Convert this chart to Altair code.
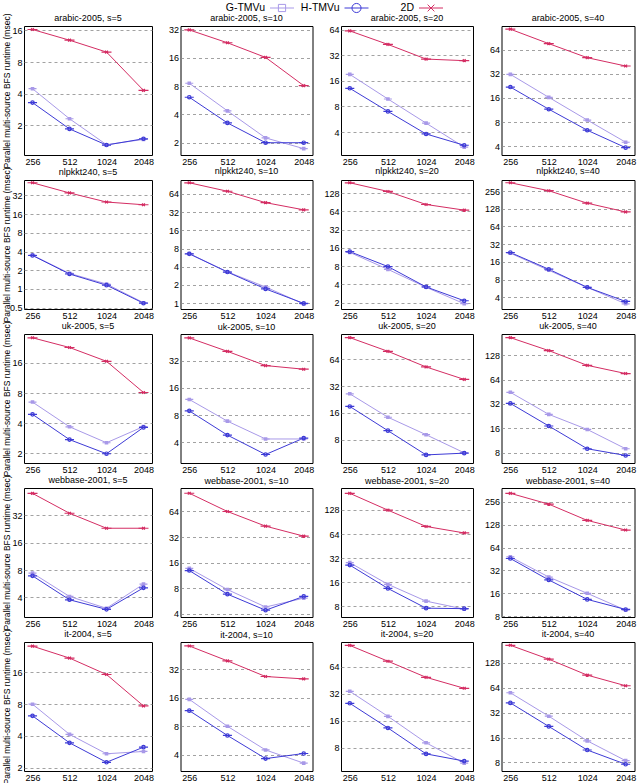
import altair as alt
import pandas as pd

procs = [256, 512, 1024, 2048]
graphs = ["arabic-2005", "nlpkkt240", "uk-2005", "webbase-2001", "it-2004"]
sources = [5, 10, 20, 40]
series = ["G-TMVu", "H-TMVu", "2D"]
colors = ["#a899e8", "#3d3ad6", "#d42d63"]

# runtimes in msec: one list per s (5, 10, 20, 40), values for 256..2048 processes
arabic_g = [[4.46, 2.31, 1.31, 1.47], [8.6, 4.37, 2.25, 1.73], [19.1, 9.8, 5.1, 2.66], [31.5, 16.3, 8.5, 4.5]]
arabic_h = [[3.29, 1.85, 1.30, 1.49], [6.1, 3.25, 2.0, 2.0], [13.1, 7.0, 3.8, 2.8], [21.9, 11.6, 6.35, 3.85]]
arabic_2d = [[16.3, 12.9, 9.95, 4.3], [31.8, 23.2, 16.2, 8.1], [62, 43, 28.9, 27.7], [115, 76, 50.8, 40]]

nlpkkt_g = [[3.5, 1.78, 1.2, 0.6], [6.6, 3.3, 1.85, 0.97], [13.5, 7.1, 3.6, 1.93], [22.5, 11.5, 5.9, 3.1]]
nlpkkt_h = [[3.45, 1.74, 1.15, 0.59], [6.55, 3.27, 1.72, 0.99], [13.9, 7.9, 3.65, 2.16], [23.1, 12.0, 5.9, 3.4]]
nlpkkt_2d = [[51, 35, 25, 22.6], [98, 71, 46, 35], [189, 136, 83, 67], [354, 259, 159, 113]]

uk_g = [[6.5, 3.68, 2.55, 3.7], [11.9, 6.85, 4.35, 4.35], [26.2, 14.3, 9.1, 5.7], [44.6, 23.8, 15.5, 8.95]]
uk_h = [[4.9, 2.74, 1.98, 3.63], [8.9, 4.8, 2.93, 4.45], [18.9, 10.1, 5.4, 5.65], [32.5, 17.1, 8.95, 7.4]]
uk_2d = [[28.5, 22.8, 16.6, 8.1], [57, 40.5, 28.2, 25.7], [112, 78.6, 52.5, 38], [211, 146, 96, 76]]

webbase_g = [[7.4, 4.1, 3.04, 5.6], [13.7, 7.7, 4.8, 6.1], [28.1, 15.1, 9.3, 7.4], [48.3, 26.2, 16, 9.6]]
webbase_h = [[6.9, 3.77, 2.96, 5.1], [12.9, 6.8, 4.4, 6.4], [26.2, 13.4, 7.6, 7.5], [46, 24, 13.3, 9.8]]
webbase_2d = [[55.5, 33.6, 23, 23], [105, 64, 43, 32.8], [206, 127, 79.5, 66], [332, 239, 146, 109]]

it_g = [[8.0, 4.14, 2.71, 2.85], [15.4, 8.0, 4.5, 3.27], [34, 17.9, 9.1, 5.4], [55.7, 29, 14.6, 8.4]]
it_h = [[6.2, 3.44, 2.25, 3.13], [11.7, 6.4, 3.65, 4.13], [25, 13.3, 6.85, 5.7], [42, 21.8, 11.3, 7.6]]
it_2d = [[28.4, 21.9, 15.3, 7.7], [56.3, 39.2, 26.8, 25.3], [110, 73.4, 48.6, 36.7], [209, 142, 91, 67.7]]

# y-axis ranges and tick labels per panel
arabic_ydom = [[1.045, 17.6], [1.48, 35], [2.15, 70.8], [3.12, 126]]
nlpkkt_ydom = [[0.476, 56.5], [0.8, 109], [1.58, 210], [2.53, 394]]
uk_ydom = [[1.6, 31.1], [2.36, 63], [4.38, 123], [5.97, 234]]
webbase_ydom = [[2.44, 63.6], [3.66, 121], [5.9, 240], [7.8, 390]]
it_ydom = [[1.86, 31.1], [2.7, 62], [4.42, 120], [6.3, 229]]

arabic_yticks = [[2, 4, 8, 16], [2, 4, 8, 16, 32], [4, 8, 16, 32, 64], [4, 8, 16, 32, 64]]
nlpkkt_yticks = [[0.5, 1, 2, 4, 8, 16, 32], [1, 2, 4, 8, 16, 32, 64], [2, 4, 8, 16, 32, 64, 128], [4, 8, 16, 32, 64, 128, 256]]
uk_yticks = [[2, 4, 8, 16], [4, 8, 16, 32], [8, 16, 32, 64], [8, 16, 32, 64, 128]]
webbase_yticks = [[4, 8, 16, 32], [4, 8, 16, 32, 64], [8, 16, 32, 64, 128], [8, 16, 32, 64, 128, 256]]
it_yticks = [[2, 4, 8, 16], [4, 8, 16, 32], [8, 16, 32, 64], [8, 16, 32, 64, 128]]

ytitle = "Parallel multi-source BFS runtime (msec)"

runtimes = {
    "arabic-2005": (arabic_g, arabic_h, arabic_2d),
    "nlpkkt240": (nlpkkt_g, nlpkkt_h, nlpkkt_2d),
    "uk-2005": (uk_g, uk_h, uk_2d),
    "webbase-2001": (webbase_g, webbase_h, webbase_2d),
    "it-2004": (it_g, it_h, it_2d),
}
ydoms = {"arabic-2005": arabic_ydom, "nlpkkt240": nlpkkt_ydom, "uk-2005": uk_ydom,
         "webbase-2001": webbase_ydom, "it-2004": it_ydom}
yticks = {"arabic-2005": arabic_yticks, "nlpkkt240": nlpkkt_yticks, "uk-2005": uk_yticks,
          "webbase-2001": webbase_yticks, "it-2004": it_yticks}

FONT = "Liberation Sans"
marker_shapes = ["square", "circle", "M-1,-1L1,1M-1,1L1,-1"]
marker_sizes = [64, 100, 49]
legend_shapes = [
    "M-1,0H1M-0.3,-0.3H0.3V0.3H-0.3Z",
    "M-1,0H1M-0.38,0A0.38,0.38,0,1,0,0.38,0A0.38,0.38,0,1,0,-0.38,0",
    "M-1,0H1M-0.28,-0.28L0.28,0.28M-0.28,0.28L0.28,-0.28",
]
col_widths = [128, 132, 132, 133]
PANEL_H = 129
ROW_GAP = 25
TITLE_OVERHANG = 12  # rotated y title reaches above the first-column plots


def panel(gi, si):
    g = graphs[gi]
    s = sources[si]
    recs = []
    for name, arr in zip(series, runtimes[g]):
        for p, v in zip(procs, arr[si]):
            recs.append({"procs": p, "series": name, "ms": v})
    df = pd.DataFrame(recs)

    ykw = dict(values=yticks[g][si], labelExpr="format(datum.value, '~g')", labelPadding=2)
    if si == 0:
        ykw.update(title=ytitle, titleFontSize=8.5, titleFontWeight="normal", titleFont=FONT,
                   titleX=-13, titleY=PANEL_H / 2, titleColor="black")
        toff = 2.5 - TITLE_OVERHANG
    else:
        ykw.update(title="")
        toff = 2.5

    x = alt.X("procs:O", scale=alt.Scale(type="point", padding=0.23),
              axis=alt.Axis(title="", labelAngle=0, labelPadding=2.5))
    y = alt.Y("ms:Q", scale=alt.Scale(type="log", base=2, domain=ydoms[g][si], nice=False),
              axis=alt.Axis(**ykw))
    color = alt.Color("series:N", scale=alt.Scale(domain=series, range=colors), legend=None)
    shape = alt.Shape("series:N", scale=alt.Scale(domain=series, range=marker_shapes), legend=None)
    size = alt.Size("series:N", scale=alt.Scale(domain=series, range=marker_sizes), legend=None)

    base = alt.Chart(df)
    lines = base.mark_line(strokeWidth=1).encode(x=x, y=y, color=color)
    pts = base.mark_point(filled=False, strokeWidth=1.2, opacity=1).encode(
        x=x, y=y, color=color, shape=shape, size=size)
    return alt.layer(lines, pts).properties(
        width=col_widths[si], height=PANEL_H,
        title=alt.TitleParams(f"{g}, s={s}", fontSize=9, fontWeight="normal", font=FONT,
                              offset=toff, frame="group", anchor="middle", color="black"),
        view=alt.ViewBackground(stroke="black", strokeWidth=1),
    )


panels = [panel(gi, si) for gi in range(len(graphs)) for si in range(len(sources))]
grid = alt.concat(*panels, columns=4, spacing={"row": ROW_GAP, "column": 28.5}, bounds="flush")

# legend: label followed by line-with-marker sample
leg_df = pd.DataFrame({"series": series})
lx = alt.X("series:N", scale=alt.Scale(type="point", domain=series, range=[258, 407], padding=0),
           axis=None)
leg_sym = alt.Chart(leg_df).mark_point(filled=False, size=576, strokeWidth=1, opacity=1).encode(
    x=lx,
    color=alt.Color("series:N", scale=alt.Scale(domain=series, range=colors), legend=None),
    shape=alt.Shape("series:N", scale=alt.Scale(domain=series, range=legend_shapes), legend=None),
)
leg_txt = alt.Chart(leg_df).mark_text(align="right", baseline="middle", dx=-17, fontSize=10.5,
                                      font=FONT, color="black").encode(x=lx, text="series:N")
legend = alt.layer(leg_sym, leg_txt).properties(width=600, height=12)

chart = (
    alt.vconcat(legend, grid, spacing=12, bounds="flush")
    .properties(padding={"left": 1, "top": 0, "right": 0, "bottom": 0})
    .configure_view(stroke="transparent")
    .configure_axis(labelFont=FONT, labelFontSize=9, labelColor="black", ticks=False,
                    domain=False)
    .configure_axisX(grid=False)
    .configure_axisY(grid=True, gridDash=[3, 3], gridColor="#8a8a8a", gridWidth=0.8)
)

chart.save("out.html", embed_options={"renderer": "svg", "actions": False})
